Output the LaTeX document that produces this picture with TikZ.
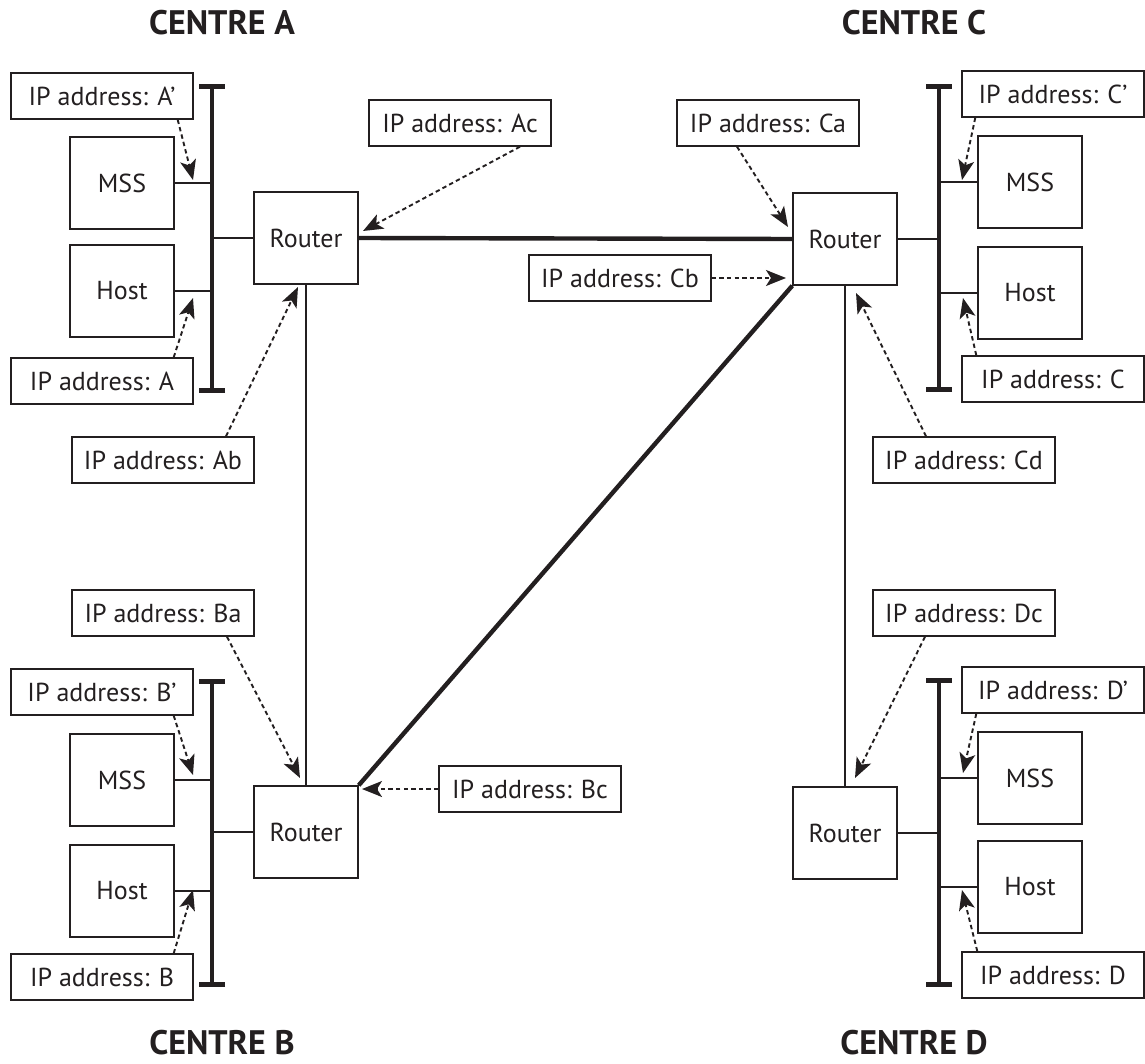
\documentclass[tikz,border=0pt]{standalone}
\usepackage{fontspec}
\setmainfont{PT Sans}
\usetikzlibrary{arrows.meta,calc}
\definecolor{ink}{HTML}{231F20}

\begin{document}
\begin{tikzpicture}[x=0.5pt,y=-0.5pt,font=\fontsize{13}{15}\selectfont,color=ink]
\tikzstyle{addr}=[draw,line width=0.7pt,minimum width=91pt,minimum height=23pt,inner sep=0pt]
\tikzstyle{unit}=[draw,line width=0.7pt,minimum width=52pt,minimum height=46pt,inner sep=0pt]
\tikzstyle{centre}=[font=\fontsize{17}{19}\selectfont\bfseries]
\tikzstyle{link}=[line width=0.75pt]
\tikzstyle{trunk}=[line width=2.2pt]
\tikzstyle{bus}=[line width=2.4pt,{Bar[width=13pt]}-{Bar[width=13pt]}]
\tikzstyle{ptr}=[line width=0.95pt,dash pattern=on 2.2pt off 1.6pt,-{Stealth[length=10pt,width=8pt,inset=2.5pt]}]
\useasboundingbox (0,0) rectangle (1145,1064);

% centre titles
\node[centre] (tA) at (222,23) {CENTRE A};
\node[centre] (tB) at (222,1043) {CENTRE B};
\node[centre] (tC) at (914,23) {CENTRE C};
\node[centre] (tD) at (914,1043) {CENTRE D};

% centre A
\coordinate (busA) at (212,0);
\draw[bus] (212,84) -- (212,393);
\node[unit] (mssA) at (122,183) {MSS};
\node[unit] (hostA) at (122,291) {Host};
\node[unit] (rA) at (306,238) {Router};
\node[addr] (ipA1) at (102,96) {IP address: A’};
\node[addr] (ipA) at (102,381) {IP address: A};
\node[addr] (ipAb) at (163,460) {IP address: Ab};
\node[addr] (ipAc) at (460,123) {IP address: Ac};

% centre B
\coordinate (busB) at (212,0);
\draw[bus] (212,679) -- (212,987);
\node[unit] (mssB) at (122,780) {MSS};
\node[unit] (hostB) at (122,891) {Host};
\node[unit] (rB) at (306,832) {Router};
\node[addr] (ipB1) at (102,692) {IP address: B’};
\node[addr] (ipB) at (102,977) {IP address: B};
\node[addr] (ipBa) at (163,613) {IP address: Ba};
\node[addr] (ipBc) at (530,789) {IP address: Bc};

% centre C
\coordinate (busC) at (939,0);
\draw[bus] (939,84) -- (939,392);
\node[unit] (mssC) at (1030,182) {MSS};
\node[unit] (hostC) at (1030,293) {Host};
\node[unit] (rC) at (845,239) {Router};
\node[addr] (ipC1) at (1053,94) {IP address: C’};
\node[addr] (ipC) at (1053,379) {IP address: C};
\node[addr] (ipCa) at (768,123) {IP address: Ca};
\node[addr] (ipCb) at (620,278) {IP address: Cb};
\node[addr] (ipCd) at (964,460) {IP address: Cd};

% centre D
\coordinate (busD) at (939,0);
\draw[bus] (939,678) -- (939,987);
\node[unit] (mssD) at (1030,778) {MSS};
\node[unit] (hostD) at (1030,887) {Host};
\node[unit] (rD) at (845,833) {Router};
\node[addr] (ipD1) at (1053,690) {IP address: D’};
\node[addr] (ipD) at (1053,975) {IP address: D};
\node[addr] (ipDc) at (964,613) {IP address: Dc};

% drops to the buses
\draw[link] (mssA.east) -- (mssA.east -| busA);
\draw[link] (hostA.east) -- (hostA.east -| busA);
\draw[link] (rA.west) -- (rA.west -| busA);
\draw[link] (mssB.east) -- (mssB.east -| busB);
\draw[link] (hostB.east) -- (hostB.east -| busB);
\draw[link] (rB.west) -- (rB.west -| busB);
\draw[link] (mssC.west) -- (mssC.west -| busC);
\draw[link] (hostC.west) -- (hostC.west -| busC);
\draw[link] (rC.east) -- (rC.east -| busC);
\draw[link] (mssD.west) -- (mssD.west -| busD);
\draw[link] (hostD.west) -- (hostD.west -| busD);
\draw[link] (rD.east) -- (rD.east -| busD);

% router to router
\draw[trunk] (rA.east) -- (rC.west);
\draw[trunk] (rC.south west) -- (rB.north east);
\draw[link] (rA.south) -- (rB.north);
\draw[link] (rC.south) -- (rD.north);

% address pointers
\draw[ptr] ($(ipA1.south east)+(-16,0)$) -- (193,180);
\draw[ptr] ($(ipA.north east)+(-20,0)$) -- (193,298);
\draw[ptr] ($(ipAb.north)+(63,0)$) -- (298,287);
\draw[ptr] ($(ipAc.south)+(60,0)$) -- (363,231);
\draw[ptr] ($(ipB1.south east)+(-20,0)$) -- (193,775);
\draw[ptr] ($(ipB.north east)+(-20,0)$) -- (193,890);
\draw[ptr] ($(ipBa.south)+(64,0)$) -- (300,778);
\draw[ptr] (ipBc.west) -- (362,789);
\draw[ptr] ($(ipC1.south west)+(14,0)$) -- (962,180);
\draw[ptr] ($(ipC.north west)+(15,0)$) -- (963,298);
\draw[ptr] ($(ipCa.south)+(-31,0)$) -- (788,227);
\draw[ptr] (ipCb.east) -- (786,278);
\draw[ptr] ($(ipCd.north)+(-38,0)$) -- (856,293);
\draw[ptr] ($(ipDc.south)+(-39,0)$) -- (855,778);
\draw[ptr] ($(ipD1.south west)+(15,0)$) -- (963,773);
\draw[ptr] ($(ipD.north west)+(16,0)$) -- (962,890);
\end{tikzpicture}
\end{document}
